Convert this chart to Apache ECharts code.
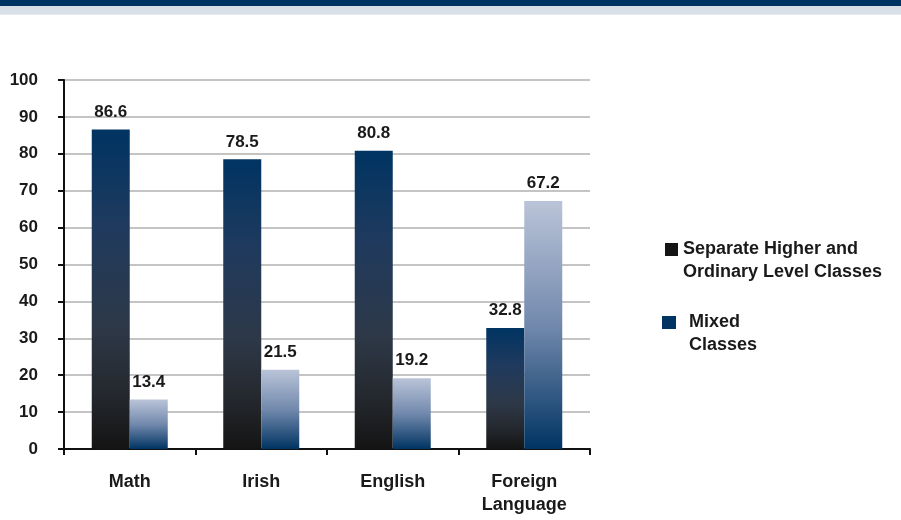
<!DOCTYPE html>
<html>
<head>
<meta charset="utf-8">
<script src="https://cdn.jsdelivr.net/npm/echarts@6/dist/echarts.min.js"></script>
<style>
html,body{margin:0;padding:0;background:#fff;}
#chart{width:901px;height:520px;}
</style>
</head>
<body>
<div id="chart"></div>
<script>
// Subjects along the x axis
const categories = ['Math', 'Irish', 'English', 'Foreign\nLanguage'];
// Percent of schools per class arrangement
const separateValues = [86.6, 78.5, 80.8, 32.8];
const mixedValues = [13.4, 21.5, 19.2, 67.2];
const seriesNames = ['Separate Higher and\nOrdinary Level Classes', 'Mixed\nClasses'];
const yTicks = [0, 10, 20, 30, 40, 50, 60, 70, 80, 90, 100];

const FONT = 'Liberation Sans, Arial, sans-serif';
const chart = echarts.init(document.getElementById('chart'));

const grad = stops => new echarts.graphic.LinearGradient(0, 0, 0, 1,
  stops.map(([offset, color]) => ({ offset, color })));

const valueLabel = {
  show: true,
  position: 'top',
  distance: 9,
  fontFamily: FONT,
  fontWeight: 'bold',
  fontSize: 17,
  color: '#1a1a1a',
  formatter: p => p.value.toFixed(1)
};

// Key entries: swatch beside the first line of a two-line name
const legendFont = { fontFamily: FONT, fontWeight: 'bold', fontSize: 18, lineHeight: 23, fill: '#1a1a1a' };
function keyEntry(name, color, sx, sy, sw, tx) {
  return [
    { type: 'rect', shape: { x: sx, y: sy, width: sw, height: 13 }, style: { fill: color } },
    { type: 'text', x: tx, y: sy + 6.5 - 11.5,
      style: Object.assign({ text: name, verticalAlign: 'top', align: 'left' }, legendFont) }
  ];
}

chart.setOption({
  animation: false,
  backgroundColor: '#fff',
  graphic: [
    { type: 'rect', shape: { x: 0, y: 0, width: 901, height: 6 }, style: { fill: '#003462' } },
    { type: 'rect', shape: { x: 0, y: 6, width: 901, height: 8 }, style: { fill: '#d8dfe6' } },
    { type: 'rect', shape: { x: 0, y: 14, width: 901, height: 1 }, style: { fill: '#e8edf2' } },
    ...keyEntry(seriesNames[0], '#151515', 665, 243, 13, 683),
    ...keyEntry(seriesNames[1], '#003462', 662, 316, 14, 689)
  ],
  grid: { left: 64, right: 311, top: 80, bottom: 71, containLabel: false },
  xAxis: {
    type: 'category',
    data: categories,
    axisLine: { lineStyle: { color: '#111', width: 2 } },
    axisTick: { show: true, length: 6, lineStyle: { color: '#111', width: 2 } },
    axisLabel: {
      margin: 22,
      fontFamily: FONT,
      fontWeight: 'bold',
      fontSize: 18,
      color: '#1a1a1a',
      lineHeight: 23
    }
  },
  yAxis: {
    type: 'value',
    min: yTicks[0],
    max: yTicks[yTicks.length - 1],
    interval: 10,
    axisLine: { show: true, lineStyle: { color: '#111', width: 2 } },
    axisTick: { show: true, length: 6, lineStyle: { color: '#111', width: 2 } },
    splitLine: { lineStyle: { color: '#c4c4c4', width: 2 } },
    axisLabel: {
      margin: 26,
      fontFamily: FONT,
      fontWeight: 'bold',
      fontSize: 17,
      color: '#1a1a1a'
    }
  },
  series: [
    {
      name: seriesNames[0],
      type: 'bar',
      data: separateValues,
      barWidth: 38,
      barGap: '0%',
      itemStyle: { color: grad([[0, '#003462'], [0.3, '#1f3a5e'], [0.62, '#2d3847'], [0.82, '#25292f'], [1, '#141414']]) },
      label: valueLabel
    },
    {
      name: seriesNames[1],
      type: 'bar',
      data: mixedValues,
      barWidth: 38,
      barGap: '0%',
      itemStyle: { color: grad([[0, '#bac4d8'], [0.5, '#7289ad'], [1, '#003462']]) },
      label: valueLabel
    }
  ]
});
</script>
</body>
</html>
